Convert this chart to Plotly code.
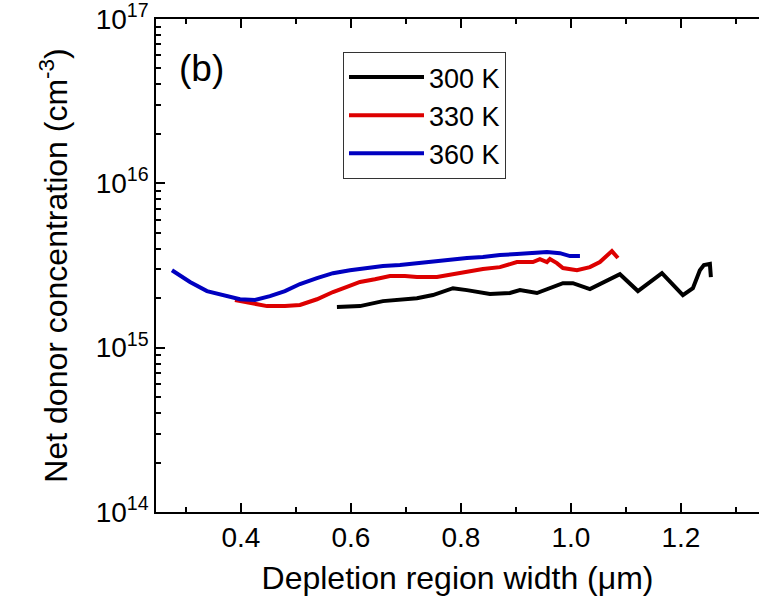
import plotly.graph_objects as go

# Data
x_300K = [0.5745, 0.6164, 0.6582, 0.6891, 0.7200, 0.7491, 0.7855, 0.8109, 0.8527, 0.8891,
          0.9073, 0.9382, 0.9618, 0.9855, 1.0036, 1.0345, 1.0891, 1.1218, 1.1655, 1.2036,
          1.2218, 1.2345, 1.2418, 1.2527, 1.2545]
n_300K = [1.77e15, 1.79e15, 1.92e15, 1.97e15, 2.00e15, 2.09e15, 2.30e15, 2.24e15, 2.12e15, 2.15e15,
          2.24e15, 2.15e15, 2.30e15, 2.47e15, 2.47e15, 2.27e15, 2.80e15, 2.21e15, 2.84e15, 2.09e15,
          2.30e15, 2.96e15, 3.18e15, 3.23e15, 2.69e15]

x_330K = [0.3891, 0.4164, 0.4473, 0.4800, 0.5073, 0.5382, 0.5673, 0.5927, 0.6164, 0.6436,
          0.6709, 0.6982, 0.7200, 0.7564, 0.7927, 0.8164, 0.8400, 0.8709, 0.9018, 0.9309,
          0.9436, 0.9564, 0.9618, 0.9745, 0.9855, 1.0109, 1.0345, 1.0527, 1.0636, 1.0745, 1.0855]
n_330K = [1.95e15, 1.87e15, 1.79e15, 1.79e15, 1.82e15, 1.97e15, 2.18e15, 2.34e15, 2.51e15, 2.61e15,
          2.73e15, 2.73e15, 2.69e15, 2.69e15, 2.84e15, 2.92e15, 3.01e15, 3.09e15, 3.32e15, 3.32e15,
          3.46e15, 3.32e15, 3.46e15, 3.27e15, 3.05e15, 2.96e15, 3.09e15, 3.32e15, 3.61e15, 3.87e15, 3.51e15]

x_360K = [0.2745, 0.3073, 0.3382, 0.3709, 0.3982, 0.4255, 0.4527, 0.4800, 0.5073, 0.5382,
          0.5673, 0.5982, 0.6291, 0.6582, 0.6891, 0.7200, 0.7491, 0.7800, 0.8109, 0.8400,
          0.8709, 0.9018, 0.9309, 0.9564, 0.9800, 0.9982, 1.0164]
n_360K = [2.96e15, 2.51e15, 2.21e15, 2.06e15, 1.97e15, 1.95e15, 2.06e15, 2.21e15, 2.44e15, 2.65e15,
          2.84e15, 2.96e15, 3.05e15, 3.14e15, 3.18e15, 3.27e15, 3.32e15, 3.41e15, 3.51e15, 3.56e15,
          3.66e15, 3.71e15, 3.76e15, 3.82e15, 3.76e15, 3.61e15, 3.61e15]

series_names = ["300 K", "330 K", "360 K"]
series_colors = ["#000000", "#dd0000", "#0000c0"]

x_tickvals = [0.4, 0.6, 0.8, 1.0, 1.2]
x_ticktext = ["0.4", "0.6", "0.8", "1.0", "1.2"]
x_minor = [0.3, 0.5, 0.7, 0.9, 1.1, 1.3]
y_tickvals = [1e14, 1e15, 1e16, 1e17]
y_ticktext = ["10<sup>14</sup>", "10<sup>15</sup>", "10<sup>16</sup>", "10<sup>17</sup>"]
y_minor = [m * 10 ** e for e in (14, 15, 16) for m in range(2, 10)]

FONT = "Liberation Sans, Arial, sans-serif"

fig = go.Figure()
for xs, ys, name, col in zip([x_300K, x_330K, x_360K], [n_300K, n_330K, n_360K],
                             series_names, series_colors):
    fig.add_trace(go.Scatter(x=xs, y=ys, mode="lines", name=name,
                             line=dict(color=col, width=4)))

fig.update_layout(
    template="none",
    width=759, height=598, autosize=False,
    margin=dict(l=156, r=0, t=19, b=86, pad=0),
    paper_bgcolor="white", plot_bgcolor="white",
    font=dict(family=FONT, color="black"),
    showlegend=True,
    legend=dict(x=(343 - 156) / 603, y=(512 - 52) / 493, xanchor="left", yanchor="top",
                bordercolor="#333333", borderwidth=1, bgcolor="white",
                font=dict(size=27, family=FONT), itemwidth=75,
                tracegroupgap=0),
    annotations=[dict(text="(b)", x=0.035, y=0.9, xref="paper", yref="paper",
                      xanchor="left", yanchor="middle", showarrow=False,
                      font=dict(size=37, family=FONT))],
)

fig.update_xaxes(
    range=[0.2455, 1.342], showgrid=False, zeroline=False, automargin=False,
    showline=True, linecolor="black", linewidth=1.5, mirror="ticks",
    ticks="inside", ticklen=9, tickwidth=1.5, tickcolor="black",
    tickmode="array", tickvals=x_tickvals, ticktext=x_ticktext,
    tickfont=dict(size=28, family=FONT),
    minor=dict(tickmode="array", tickvals=x_minor, ticks="inside", ticklen=5,
               tickwidth=1.5, tickcolor="black", showgrid=False),
    title=dict(text="Depletion region width (μm)", font=dict(size=32, family=FONT), standoff=14),
)
fig.update_yaxes(
    type="log", range=[13.9999, 17.0001], showgrid=False, zeroline=False, automargin=False,
    showline=True, linecolor="black", linewidth=1.5, mirror=False,
    ticks="inside", ticklen=9, tickwidth=1.5, tickcolor="black",
    tickmode="array", tickvals=y_tickvals, ticktext=y_ticktext,
    tickfont=dict(size=28, family=FONT), ticklabeloverflow="allow",
    minor=dict(tickmode="array", tickvals=y_minor, ticks="inside", ticklen=5,
               tickwidth=1.5, tickcolor="black", showgrid=False),
    title=dict(text="Net donor concentration (cm<sup>-3</sup>)", font=dict(size=32, family=FONT), standoff=18),
)

fig.write_html(
    "out.html",
    config={"displayModeBar": False},
    post_script="document.body.style.margin='0';document.body.style.overflow='hidden';",
)
